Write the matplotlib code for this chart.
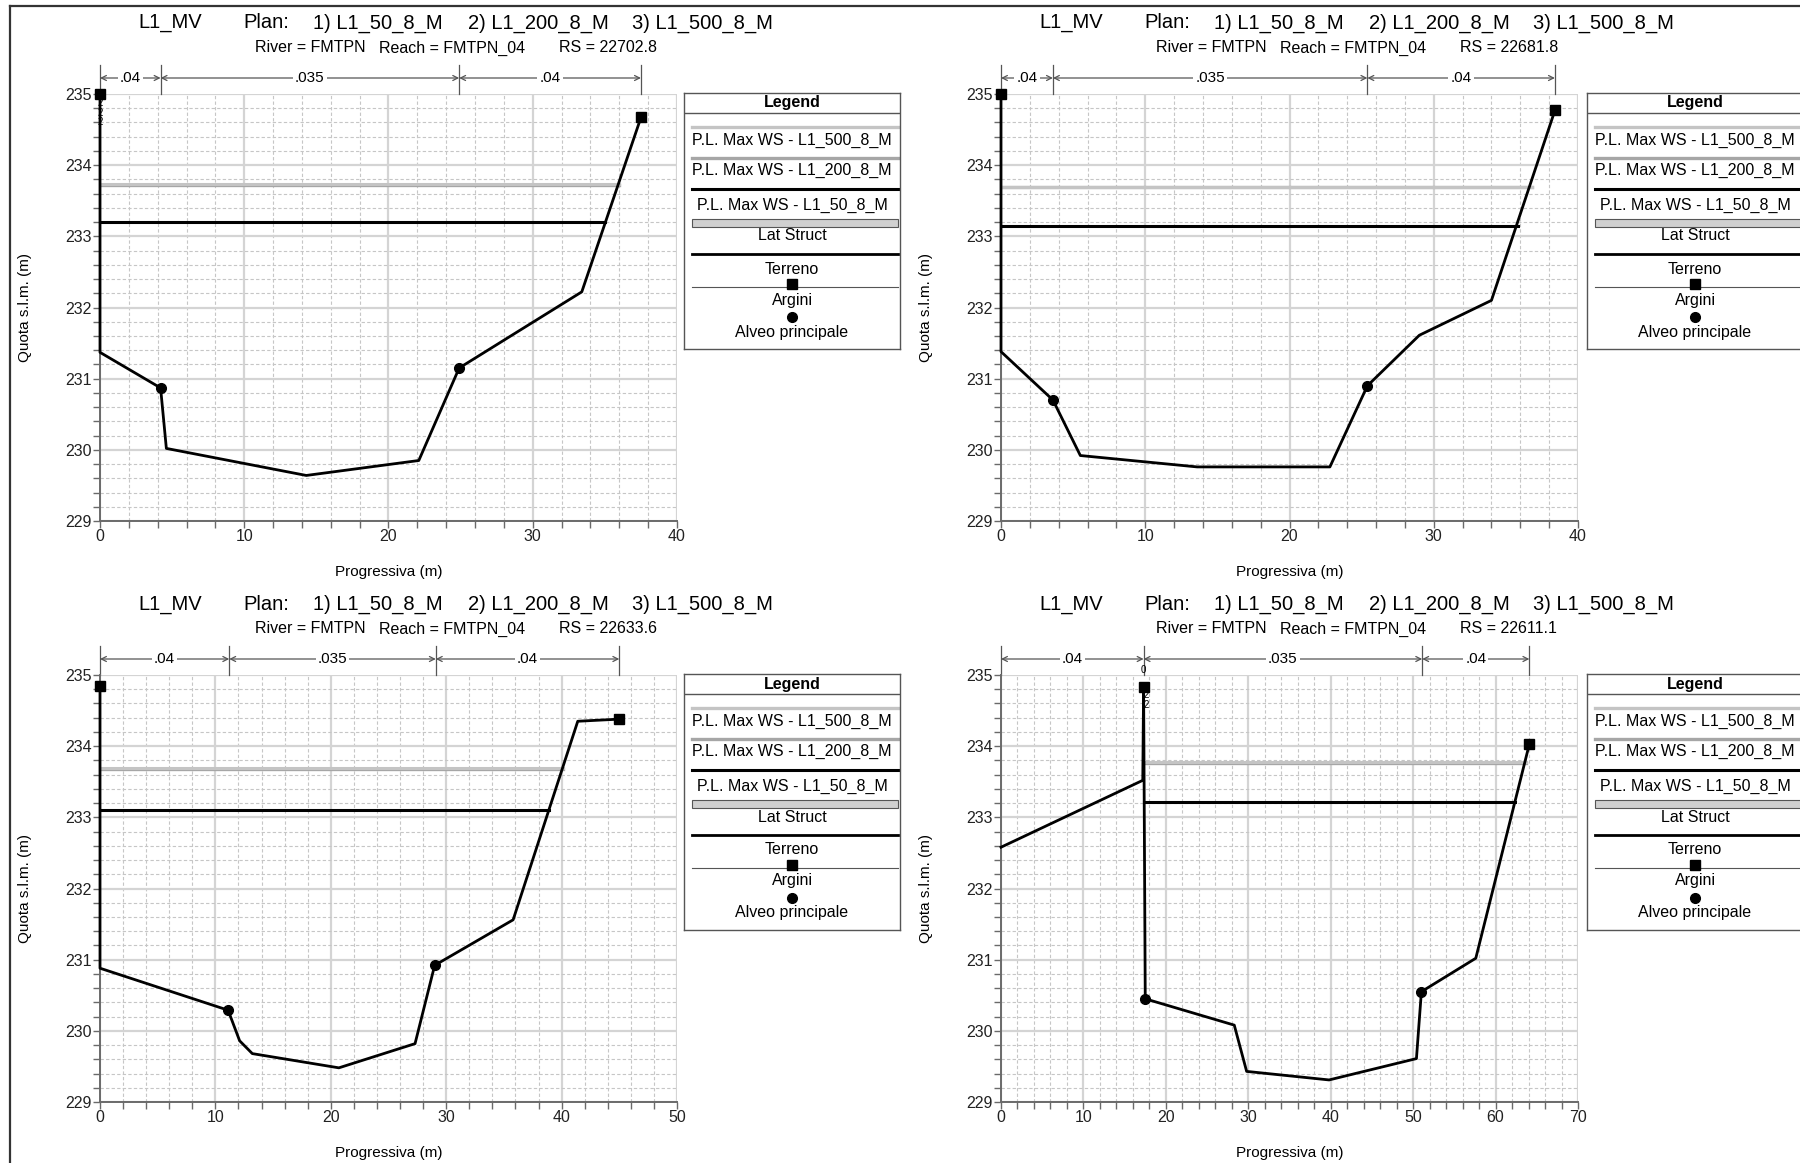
"""Sezioni trasversali HEC-RAS - 4 pannelli con legenda, salvati come PNG"""

import matplotlib
matplotlib.use("Agg")
import matplotlib.pyplot as plt
import matplotlib.ticker as mticker
import matplotlib.transforms as mtransforms
from matplotlib.patches import Rectangle

plt.rcParams["font.family"] = ["Liberation Sans", "DejaVu Sans"]

W, H = 1800, 1163

# Colori
BLACK = "#000000"
COL_WS500 = "#C4C4C4"
COL_WS200 = "#A6A6A6"
AXIS_COL = "#6A6A6A"
GRID_COL = "#D4D4D4"
MINOR_COL = "#C6C6C6"
LAT_COL = "#D0D0D0"

PLAN = ["L1_MV", "Plan:", "1) L1_50_8_M", "2) L1_200_8_M", "3) L1_500_8_M"]
RIVER = "River = FMTPN"
REACH = "Reach = FMTPN_04"

# --- RS 22702.8 ---
RS_A = "22702.8"
STA_A = [0.0, 0.0, 4.2, 4.6, 14.3, 22.1, 24.9, 33.4, 37.5]
ELEV_A = [235.0, 231.37, 230.87, 230.02, 229.64, 229.85, 231.15, 232.22, 234.67]
LEV_X_A = [0.0, 37.5]
LEV_Z_A = [235.0, 234.67]
BANK_X_A = [4.2, 24.9]
BANK_Z_A = [230.87, 231.15]
WS500_A = [233.73, 0.0, 36.0]
WS200_A = [233.72, 0.0, 36.0]
WS50_A = [233.20, 0.0, 35.0]
NB_A = [0.0, 4.2, 24.9, 37.5]
NV_A = [".04", ".035", ".04"]
XMAX_A = 40
LAT_A = [(0.0, 234.87, "2"), (0.0, 234.73, "2"), (0.0, 234.6, "2")]

# --- RS 22681.8 ---
RS_B = "22681.8"
STA_B = [0.0, 0.0, 3.6, 5.5, 13.6, 22.8, 25.4, 29.0, 34.0, 38.4]
ELEV_B = [235.0, 231.38, 230.70, 229.92, 229.76, 229.76, 230.90, 231.61, 232.10, 234.77]
LEV_X_B = [0.0, 38.4]
LEV_Z_B = [235.0, 234.77]
BANK_X_B = [3.6, 25.4]
BANK_Z_B = [230.70, 230.90]
WS500_B = [233.70, 0.0, 36.8]
WS200_B = [233.69, 0.0, 36.8]
WS50_B = [233.15, 0.0, 35.85]
NB_B = [0.0, 3.6, 25.4, 38.4]
NV_B = [".04", ".035", ".04"]
XMAX_B = 40
LAT_B = []

# --- RS 22633.6 ---
RS_C = "22633.6"
STA_C = [0.0, 0.0, 11.1, 12.1, 13.2, 20.7, 27.3, 29.0, 35.8, 41.4, 45.0]
ELEV_C = [234.85, 230.88, 230.29, 229.86, 229.68, 229.48, 229.82, 230.92, 231.56, 234.35, 234.38]
LEV_X_C = [0.0, 45.0]
LEV_Z_C = [234.85, 234.38]
BANK_X_C = [11.1, 29.0]
BANK_Z_C = [230.29, 230.92]
WS500_C = [233.69, 0.0, 40.1]
WS200_C = [233.68, 0.0, 40.1]
WS50_C = [233.10, 0.0, 38.9]
NB_C = [0.0, 11.2, 29.1, 45.0]
NV_C = [".04", ".035", ".04"]
XMAX_C = 50
LAT_C = []

# --- RS 22611.1 ---
RS_D = "22611.1"
STA_D = [0.0, 17.2, 17.3, 17.5, 28.3, 29.8, 39.8, 50.4, 51.0, 57.6, 64.1]
ELEV_D = [232.58, 233.52, 234.83, 230.45, 230.08, 229.43, 229.31, 229.61, 230.55, 231.02, 234.03]
LEV_X_D = [17.3, 64.1]
LEV_Z_D = [234.83, 234.03]
BANK_X_D = [17.5, 51.0]
BANK_Z_D = [230.45, 230.55]
WS500_D = [233.78, 17.4, 63.7]
WS200_D = [233.77, 17.4, 63.7]
WS50_D = [233.21, 17.4, 62.4]
NB_D = [0.0, 17.3, 51.1, 64.1]
NV_D = [".04", ".035", ".04"]
XMAX_D = 70
LAT_D = [(17.3, 235.07, "0"), (17.6, 234.72, "2"), (17.6, 234.58, "2")]

LEGEND_ROWS = ["P.L. Max WS - L1_500_8_M", "P.L. Max WS - L1_200_8_M",
               "P.L. Max WS - L1_50_8_M", "Lat Struct", "Terreno", "Argini",
               "Alveo principale"]

# dimensioni (pixel) degli assi e passo verticale tra le righe di pannelli
AX_W, AX_H = 577, 427
DY = 581


def fx(px):
    return px / W


def fy(py):
    return 1 - py / H


def draw_panel(fig, ox, oy, lx, ly, rs, sta, elev, lev_x, lev_z, bank_x, bank_z,
               ws500, ws200, ws50, nb, nv, xmax, lat):
    ax = fig.add_axes([fx(ox), fy(oy + AX_H), AX_W / W, AX_H / H])
    ax.set_xlim(0, xmax)
    ax.set_ylim(229, 235)
    ax.xaxis.set_major_locator(mticker.MultipleLocator(10))
    ax.xaxis.set_minor_locator(mticker.MultipleLocator(2))
    ax.yaxis.set_major_locator(mticker.MultipleLocator(1))
    ax.yaxis.set_minor_locator(mticker.MultipleLocator(0.2))
    ax.grid(which="major", color=GRID_COL, lw=1.6, ls="-", zorder=0)
    ax.grid(which="minor", color=MINOR_COL, lw=0.8, ls=(0, (3, 2)), zorder=0)
    ax.set_axisbelow(True)
    for s in ("top", "right"):
        ax.spines[s].set_visible(False)
    for s in ("left", "bottom"):
        ax.spines[s].set_color(AXIS_COL)
        ax.spines[s].set_linewidth(1.4)
    ax.tick_params(which="both", direction="out", color=AXIS_COL, length=5, width=1)
    ax.tick_params(which="major", labelsize=11.5, pad=1, labelcolor="#222222")

    # pelo libero
    ax.plot([ws200[1], ws200[2]], [ws200[0], ws200[0]], color=COL_WS200, lw=2.4, zorder=3)
    ax.plot([ws500[1], ws500[2]], [ws500[0], ws500[0]], color=COL_WS500, lw=2.2, zorder=3)
    ax.plot([ws50[1], ws50[2]], [ws50[0], ws50[0]], color=BLACK, lw=2.2, zorder=3)

    # terreno, argini, sponde
    ax.plot(sta, elev, color=BLACK, lw=2.0, zorder=5, clip_on=False)
    ax.plot(lev_x, lev_z, "s", ms=7, color=BLACK, zorder=6, clip_on=False)
    ax.plot(bank_x, bank_z, "o", ms=7, color=BLACK, zorder=6, clip_on=False)
    for x, z, t in lat:
        ax.text(x, z, t, fontsize=7, ha="center", va="center", zorder=7, clip_on=False)

    # barra dei coefficienti di Manning
    trans = mtransforms.blended_transform_factory(ax.transData, ax.transAxes)
    ybar = 1 + 16 / AX_H
    for b in nb:
        ax.plot([b, b], [1.0, 1 + 29 / AX_H], transform=trans, color="#555555",
                lw=0.9, clip_on=False)
    for b0, b1, n in zip(nb[:-1], nb[1:], nv):
        ax.annotate("", xy=(b1, ybar), xytext=(b0, ybar), xycoords=trans, textcoords=trans,
                    arrowprops=dict(arrowstyle="<->", color="#555555", lw=0.9,
                                    shrinkA=0, shrinkB=0, mutation_scale=9))
        ax.text((b0 + b1) / 2, ybar, n, transform=trans, ha="center", va="center",
                fontsize=11, bbox=dict(facecolor="white", edgecolor="none", pad=1.5))

    # titoli
    ty = oy - 71
    for dx, t in zip([38, 143, 213, 368, 532], PLAN):
        fig.text(fx(ox + dx), fy(ty), t, fontsize=14.5, ha="left", va="center")
    sy = oy - 46
    for dx, t in zip([155, 279, 459], [RIVER, REACH, "RS = " + rs]):
        fig.text(fx(ox + dx), fy(sy), t, fontsize=11.5, ha="left", va="center")
    fig.text(fx(ox + AX_W / 2), fy(oy + AX_H + 51), "Progressiva (m)", fontsize=11,
             ha="center", va="center")
    fig.text(fx(ox - 75), fy(oy + AX_H / 2), "Quota s.l.m. (m)", fontsize=11,
             ha="center", va="center", rotation=90)

    # legenda
    lg = fig.add_axes([fx(lx), fy(ly + 256), 216 / W, 256 / H])
    lg.set_xlim(0, 216)
    lg.set_ylim(256, 0)
    lg.set_xticks([])
    lg.set_yticks([])
    for s in lg.spines.values():
        s.set_color("#555555")
        s.set_linewidth(1.0)
    cx = 108
    lg.text(cx, 10, "Legend", fontsize=11.5, fontweight="bold", ha="center", va="center")
    lg.plot([0, 216], [20, 20], color="#555555", lw=1.0)
    lg.plot([8, 214], [34, 34], color=COL_WS500, lw=2.4)
    lg.text(cx, 47, LEGEND_ROWS[0], fontsize=11.5, ha="center", va="center")
    lg.plot([8, 214], [65, 65], color=COL_WS200, lw=2.4)
    lg.text(cx, 77, LEGEND_ROWS[1], fontsize=11.5, ha="center", va="center")
    lg.plot([8, 214], [96, 96], color=BLACK, lw=2.2)
    lg.text(cx, 112, LEGEND_ROWS[2], fontsize=11.5, ha="center", va="center")
    lg.add_patch(Rectangle((8, 126), 206, 8, facecolor=LAT_COL, edgecolor="#555555", lw=0.8))
    lg.text(cx, 143, LEGEND_ROWS[3], fontsize=11.5, ha="center", va="center")
    lg.plot([8, 214], [161, 161], color=BLACK, lw=2.0)
    lg.text(cx, 176, LEGEND_ROWS[4], fontsize=11.5, ha="center", va="center")
    lg.plot([8, 214], [194, 194], color="#555555", lw=0.8)
    lg.plot([cx], [191], "s", ms=7, color=BLACK)
    lg.text(cx, 207, LEGEND_ROWS[5], fontsize=11.5, ha="center", va="center")
    lg.plot([cx], [224], "o", ms=7, color=BLACK)
    lg.text(cx, 239, LEGEND_ROWS[6], fontsize=11.5, ha="center", va="center")
    return ax


fig = plt.figure(figsize=(W / 100, H / 100), dpi=100)
fig.patch.set_facecolor("white")

draw_panel(fig, 100, 94, 684, 93, RS_A, STA_A, ELEV_A, LEV_X_A, LEV_Z_A, BANK_X_A,
           BANK_Z_A, WS500_A, WS200_A, WS50_A, NB_A, NV_A, XMAX_A, LAT_A)
draw_panel(fig, 1001, 94, 1587, 93, RS_B, STA_B, ELEV_B, LEV_X_B, LEV_Z_B, BANK_X_B,
           BANK_Z_B, WS500_B, WS200_B, WS50_B, NB_B, NV_B, XMAX_B, LAT_B)
draw_panel(fig, 100, 94 + DY, 684, 93 + DY, RS_C, STA_C, ELEV_C, LEV_X_C, LEV_Z_C,
           BANK_X_C, BANK_Z_C, WS500_C, WS200_C, WS50_C, NB_C, NV_C, XMAX_C, LAT_C)
draw_panel(fig, 1001, 94 + DY, 1587, 93 + DY, RS_D, STA_D, ELEV_D, LEV_X_D, LEV_Z_D,
           BANK_X_D, BANK_Z_D, WS500_D, WS200_D, WS50_D, NB_D, NV_D, XMAX_D, LAT_D)

# cornice esterna
fig.add_artist(plt.Line2D([fx(10), 1], [fy(6), fy(6)], color="#333333", lw=1.6))
fig.add_artist(plt.Line2D([fx(10), fx(10)], [fy(6), 0], color="#333333", lw=1.6))

fig.savefig("out.png", dpi=100, facecolor="white")
